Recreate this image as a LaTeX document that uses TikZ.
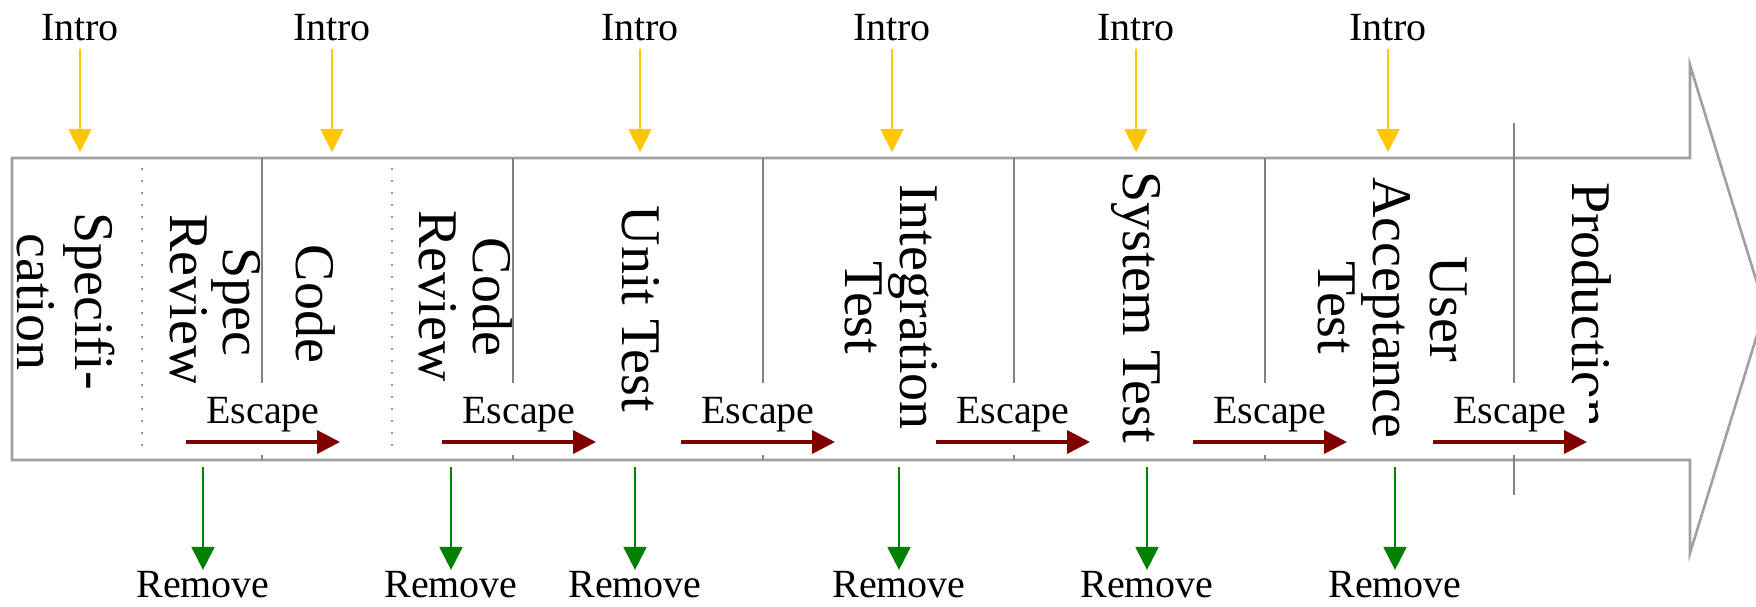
\documentclass[tikz,border=0pt]{standalone}
\usepackage{fontspec}
\setmainfont{Liberation Serif}
\usetikzlibrary{arrows.meta}
\definecolor{introc}{RGB}{255,199,0}
\definecolor{escc}{RGB}{128,0,0}
\definecolor{remc}{RGB}{0,128,0}
\definecolor{framec}{RGB}{160,160,160}
\definecolor{sepc}{RGB}{130,130,130}
\definecolor{dotc}{RGB}{150,150,150}
\begin{document}
\begin{tikzpicture}[x=0.5pt,y=-0.5pt,
  frame/.style={draw=framec,line width=1.3pt,line join=miter},
  sepline/.style={draw=sepc,line width=0.8pt},
  dotline/.style={draw=dotc,line width=1.2pt,dash pattern=on 1.2pt off 4.8pt},
  phase/.style={rotate=-90,anchor=base,inner sep=0pt,font=\fontsize{28}{28}\selectfont},
  lab/.style={anchor=base,inner xsep=0pt,font=\fontsize{20}{24}\selectfont},
  introlab/.style={lab,inner ysep=4pt},
  remlab/.style={lab,inner ysep=0pt},
  esclab/.style={lab,inner ysep=0pt},
  escbox/.style={fill=white,draw=none,minimum width=79pt,minimum height=36pt,inner sep=0pt},
  introarrow/.style={draw=introc,line width=1pt,-{Triangle[length=11.5pt,width=11.5pt]}},
  remarrow/.style={draw=remc,line width=1pt,shorten >=0.25pt,-{Triangle[length=11.5pt,width=11.5pt]}},
  escarrow/.style={draw=escc,line width=1.8pt,-{Triangle[length=11.5pt,width=11.5pt]}}
]
\useasboundingbox (0,0) rectangle (1756,606);

% big arrow outline
\draw[frame,fill=white] (12,158) -- (1690,158) -- (1690,65) -- (1765,309) -- (1690,553) -- (1690,460) -- (12,460) -- cycle;

% separators
\foreach \x in {262,513,763,1014,1265} {
  \draw[sepline] (\x,158) -- (\x,460);
}
\draw[sepline] (1514,123) -- (1514,495);
\draw[dotline] (142,168) -- (142,455);
\draw[dotline] (392,168) -- (392,455);

% phase labels
\node[phase] (spec1) at (75,301) {Specifi-};
\node[phase] (spec2) at (18,302) {cation};
\node[phase] (sr1) at (223,302) {Spec};
\node[phase] (sr2) at (170,300) {Review};
\node[phase] (code) at (296,304) {Code};
\node[phase] (cr1) at (473,297) {Code};
\node[phase] (cr2) at (419,296) {Review};
\node[phase] (unit) at (622,309) {Unit Test};
\node[phase] (integ1) at (900,307) {Integration};
\node[phase] (integ2) at (845,308) {Test};
\node[phase] (sys) at (1123,307) {System Test};
\node[phase] (uat1) at (1430,309) {User};
\node[phase] (uat2) at (1373,308) {Acceptance};
\node[phase] (uat3) at (1318,308) {Test};
\node[phase] (prod) at (1572,305) {Production};

% escapes
\foreach \x [count=\i] in {263,519,758,1013,1270,1510} {
  \node[escbox] (escbox\i) at (\x,419) {};
  \node[esclab] (esc\i) at (\x,423) {Escape};
  \coordinate (escstart\i) at ({\x-77},442);
  \coordinate (escend\i) at ({\x+77},442);
  \draw[escarrow] (escstart\i) -- (escend\i);
}

% intro
\foreach \x [count=\i] in {80,332,640,892,1136,1388} {
  \node[introlab] (intro\i) at (\x,40) {Intro};
  \coordinate (introend\i) at (\x,152);
  \draw[introarrow] (intro\i.south) -- (introend\i);
}

% remove
\foreach \x [count=\i] in {203,451,635,899,1147,1395} {
  \coordinate (remstart\i) at (\x,467);
  \node[remlab] (rem\i) at (\x,597) {Remove};
  \draw[remarrow] (remstart\i) -- (rem\i.north);
}
\end{tikzpicture}
\end{document}
